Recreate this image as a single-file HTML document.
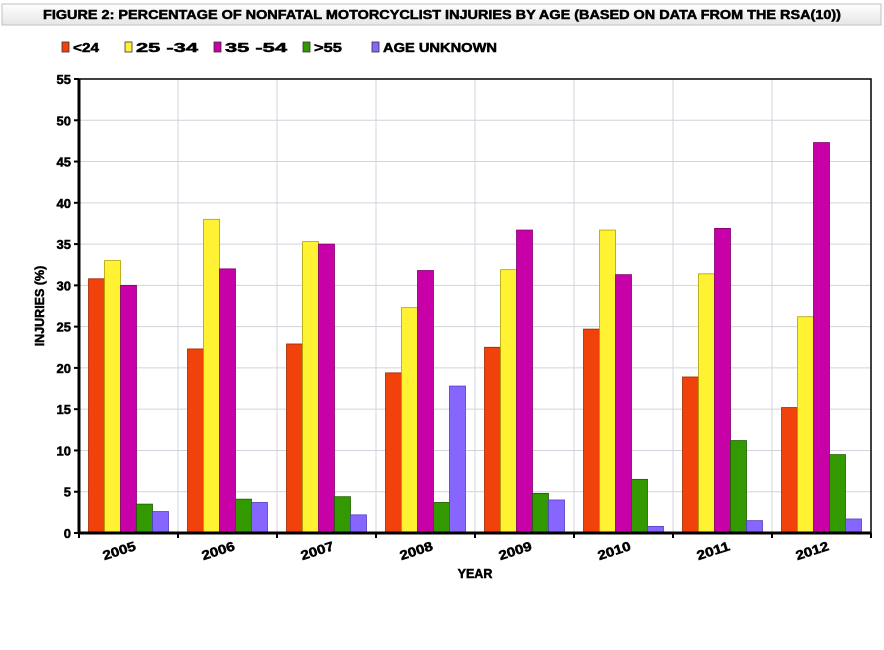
<!DOCTYPE html>
<html><head><meta charset="utf-8"><style>
body{margin:0;background:#fff;width:884px;height:650px;overflow:hidden;font-family:"Liberation Sans",sans-serif}
svg text{stroke:#000;stroke-width:0.5}
</style></head><body>
<svg id="c" width="884" height="650" style="position:absolute;left:0;top:0"></svg>
<script>
const categories=["2005","2006","2007","2008","2009","2010","2011","2012"];
const seriesNames=["<24","25 -34","35 -54",">55","AGE UNKNOWN"];
const sUnder24=[30.8,22.3,22.9,19.4,22.5,24.7,18.9,15.2];
const s25to34=[33,38,35.3,27.3,31.9,36.7,31.4,26.2];
const s35to54=[30,32,35,31.8,36.7,31.3,36.9,47.3];
const sOver55=[3.5,4.1,4.4,3.7,4.8,6.5,11.2,9.5];
const sUnknown=[2.6,3.7,2.2,17.8,4.0,0.8,1.5,1.7];
const yTicks=[0,5,10,15,20,25,30,35,40,45,50,55];
const series=[sUnder24,s25to34,s35to54,sOver55,sUnknown];
const colors=["#f0420a","#fff233","#c800a8","#339900","#8766ff"];
const strokes=["#a02800","#b0a000","#800070","#1f6000","#5040c0"];
const NS="http://www.w3.org/2000/svg";
const svg=document.getElementById('c');
const L=79,R=871,T=79,B=533,ymax=55;
function y(v){return B-(v/ymax)*(B-T);}
const gw=(R-L)/categories.length;
function x(i){return L+i*gw;}
function mk(t,a,p){const e=document.createElementNS(NS,t);for(const k in a)e.setAttribute(k,a[k]);(p||svg).appendChild(e);return e;}
const defs=mk('defs',{});
const lg=mk('linearGradient',{id:'tg',x1:0,y1:0,x2:0,y2:1},defs);
mk('stop',{offset:'0','stop-color':'#ffffff'},lg);
mk('stop',{offset:'1','stop-color':'#e6e6e6'},lg);
let tb=mk('rect',{x:2,y:4,width:879,height:21,fill:'url(#tg)',stroke:'#c0c0c0'});


let tt=mk('text',{x:442,y:19,'text-anchor':'middle','font-size':12.5,'font-weight':'bold',fill:'#000',textLength:798,lengthAdjust:'spacingAndGlyphs'});
tt.textContent="FIGURE 2: PERCENTAGE OF NONFATAL MOTORCYCLIST INJURIES BY AGE (BASED ON DATA FROM THE RSA(10))";


const lx=[62,125,214,303,372];
const lw=[26,62,62,28,114];
seriesNames.forEach((n,i)=>{
 let g=mk('g',{});
 
 
 mk('rect',{x:lx[i],y:42,width:7,height:10,fill:colors[i],stroke:'#333','stroke-width':0.8},g);
 let t=mk('text',{x:lx[i]+11,y:52,'font-size':12.5,'font-weight':'bold',textLength:lw[i],lengthAdjust:'spacingAndGlyphs'},g);t.textContent=n;
});
for(let i=1;i<categories.length;i++){let l=mk('line',{x1:x(i),x2:x(i),y1:T,y2:B,stroke:'#d0d4dc'});}
yTicks.forEach(v=>{
 if(v>0){let l=mk('line',{x1:L,x2:R,y1:y(v),y2:y(v),stroke:'#d0d4dc'});}
 mk('line',{x1:L-5,x2:L,y1:y(v),y2:y(v),stroke:'#000','stroke-width':2});
 let t=mk('text',{x:L-8,y:y(v)+5,'text-anchor':'end','font-size':13,'font-weight':'bold'});t.textContent=v;
 
});
mk('rect',{x:L,y:T,width:R-L,height:B-T,fill:'none',stroke:'#000','stroke-width':1.5});
const pad=9.5,bw=(gw-2*pad)/5;
categories.forEach((c,i)=>{
 series.forEach((s,k)=>{
  let r=mk('rect',{x:x(i)+pad+k*bw,y:y(s[i]),width:bw,height:B-y(s[i]),fill:colors[k],stroke:strokes[k],'stroke-width':0.8});
  
  
 });
 mk('line',{x1:x(i),x2:x(i),y1:B,y2:B+5,stroke:'#000','stroke-width':2});
 let cx=x(i)+gw/2-8;
 let t=mk('text',{x:cx,y:B+22,'text-anchor':'middle','font-size':13,'font-weight':'bold',transform:`rotate(-18 ${cx} ${B+22})`,textLength:34,lengthAdjust:'spacingAndGlyphs'});t.textContent=c;
 
});
mk('line',{x1:L,x2:R,y1:B,y2:B,stroke:'#000','stroke-width':3});
mk('line',{x1:L,x2:L,y1:T,y2:B,stroke:'#000','stroke-width':3});
mk('line',{x1:R,x2:R,y1:B,y2:B+5,stroke:'#000','stroke-width':2});
let xt=mk('text',{x:475,y:578,'text-anchor':'middle','font-size':12.5,'font-weight':'bold'});xt.textContent="YEAR";

let yt=mk('text',{x:44,y:306,'text-anchor':'middle','font-size':12.5,'font-weight':'bold',transform:'rotate(-90 44 306)'});yt.textContent="INJURIES (%)";

</script>
</body></html>
